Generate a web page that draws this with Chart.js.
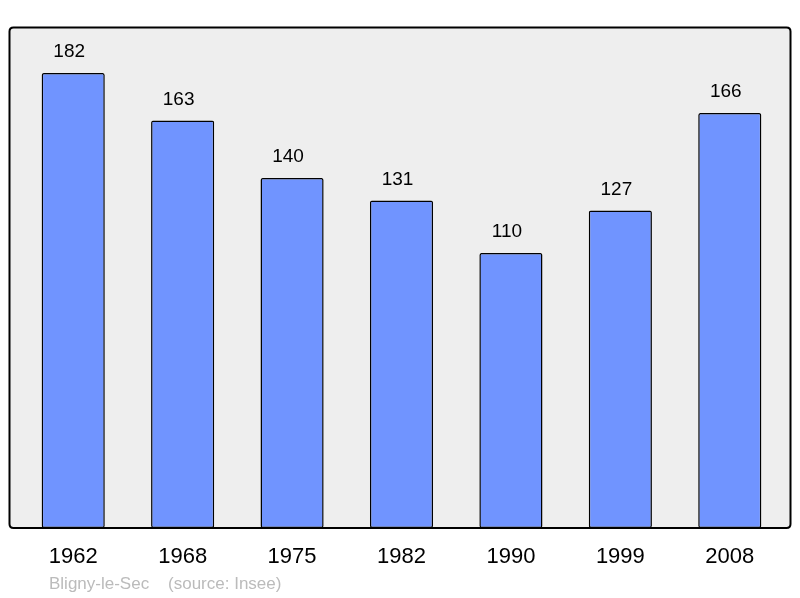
<!DOCTYPE html>
<html>
<head>
<meta charset="utf-8">
<script src="https://cdn.jsdelivr.net/npm/chart.js@4"></script>
<style>
  html, body { margin: 0; padding: 0; background: #fff; }
  #wrap { width: 800px; height: 598px; position: relative; }
</style>
</head>
<body>
<div id="wrap"><canvas id="graficoPopulation"></canvas></div>
<script>
// annees et population
const annees = ['1962', '1968', '1975', '1982', '1990', '1999', '2008'];
const population = [182, 163, 140, 131, 110, 127, 166];
const legende = 'Bligny-le-Sec    (source: Insee)';

// contour arrondi du fond
function cadre(ctx, x0, y0, x1, y1, r) {
    ctx.beginPath();
    ctx.moveTo(x0 + r, y0);
    ctx.lineTo(x1 - r, y0);
    ctx.quadraticCurveTo(x1, y0, x1, y0 + r);
    ctx.lineTo(x1, y1 - r);
    ctx.quadraticCurveTo(x1, y1, x1 - r, y1);
    ctx.lineTo(x0 + r, y1);
    ctx.quadraticCurveTo(x0, y1, x0, y1 - r);
    ctx.lineTo(x0, y0 + r);
    ctx.quadraticCurveTo(x0, y0, x0 + r, y0);
    ctx.closePath();
}

// fond gris avec bordure, etiquettes des valeurs et des annees
const decor = {
    id: 'decor',
    beforeDraw(chart) {
        const ctx = chart.ctx;
        ctx.save();
        cadre(ctx, 9.5, 27.5, 790.5, chart.chartArea.bottom, 4);
        ctx.fillStyle = '#eeeeee';
        ctx.fill();
        ctx.restore();
    },
    afterDraw(chart) {
        const ctx = chart.ctx;
        ctx.save();
        cadre(ctx, 9.5, 27.5, 790.5, chart.chartArea.bottom, 4);
        ctx.lineWidth = 2;
        ctx.strokeStyle = '#000';
        ctx.stroke();

        const meta = chart.getDatasetMeta(0);
        ctx.fillStyle = '#000';
        ctx.textAlign = 'center';
        ctx.textBaseline = 'middle';
        ctx.font = '19px "Liberation Sans", Arial, sans-serif';
        meta.data.forEach((bar, i) => {
            ctx.fillText(String(population[i]), bar.x - 4, bar.y - 21);
        });
        ctx.font = '22px "Liberation Sans", Arial, sans-serif';
        const xs = chart.scales.x;
        annees.forEach((an, i) => {
            ctx.fillText(an, xs.getPixelForValue(i), 557);
        });
        ctx.textAlign = 'left';
        ctx.fillStyle = '#bbbbbb';
        ctx.font = '17px "Liberation Sans", Arial, sans-serif';
        ctx.fillText(legende, 49, 584);
        ctx.restore();
    }
};

new Chart(document.getElementById('graficoPopulation'), {
    type: 'bar',
    data: {
        labels: annees,
        datasets: [{
            data: population,
            backgroundColor: '#7094ff',
            borderColor: '#000',
            borderWidth: 1.5,
            borderRadius: 2,
            borderSkipped: false,
            barPercentage: 0.577,
            categoryPercentage: 1
        }]
    },
    options: {
        responsive: true,
        maintainAspectRatio: false,
        animation: false,
        layout: { padding: { top: 28, bottom: 70, left: 18.5, right: 15.5 } },
        plugins: { legend: { display: false }, tooltip: { enabled: false } },
        scales: {
            x: { display: false },
            y: { display: false, min: 0, max: 200 }
        }
    },
    plugins: [decor]
});
</script>
</body>
</html>
